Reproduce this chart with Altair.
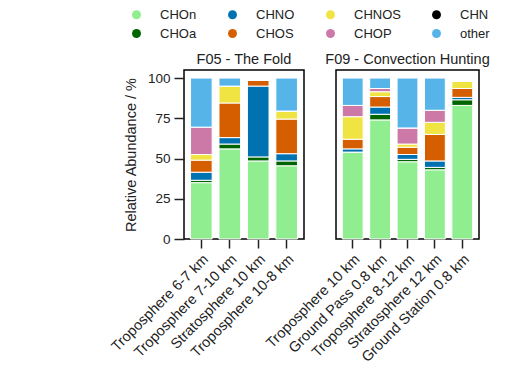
import altair as alt
import pandas as pd

species = ["CHOn", "CHOa", "CHNO", "CHOS", "CHNOS", "CHOP", "CHN", "other"]
colors = ["#90EE90", "#006400", "#0072B2", "#D55E00", "#F0E442", "#CC79A7", "#000000", "#56B4E9"]
legend_order = ["CHOn", "CHNO", "CHNOS", "CHN", "CHOa", "CHOS", "CHOP", "other"]

f05_samples = ["Troposphere 6-7 km", "Troposphere 7-10 km", "Stratosphere 10 km", "Troposphere 10-8 km"]
f09_samples = ["Troposphere 10 km", "Ground Pass 0.8 km", "Troposphere 8-12 km",
               "Stratosphere 12 km", "Ground Station 0.8 km"]

# F05 - The Fold (per species, one value per sample)
f05_CHOn = [35, 56, 48.5, 45.5]
f05_CHOa = [1.5, 3, 2.5, 3]
f05_CHNO = [5, 4, 44, 4.5]
f05_CHOS = [7.5, 21.5, 3.5, 21.5]
f05_CHNOS = [3.5, 10.5, 0, 5]
f05_CHOP = [17, 0, 0, 0]
f05_CHN = [0, 0, 0, 0]
f05_other = [30.5, 5, 0, 20.5]

# F09 - Convection Hunting
f09_CHOn = [54, 74, 48, 43, 83]
f09_CHOa = [0, 3.5, 1.5, 1.5, 3.5]
f09_CHNO = [2, 4.5, 3, 4, 1.5]
f09_CHOS = [6, 6.5, 4.5, 16.5, 5.5]
f09_CHNOS = [14, 3, 2, 7.5, 4.5]
f09_CHOP = [7, 2, 10, 7.5, 0]
f09_CHN = [0, 0, 0, 0, 0]
f09_other = [17, 6.5, 31, 20, 0]

f05 = dict(zip(species, [f05_CHOn, f05_CHOa, f05_CHNO, f05_CHOS, f05_CHNOS, f05_CHOP, f05_CHN, f05_other]))
f09 = dict(zip(species, [f09_CHOn, f09_CHOa, f09_CHNO, f09_CHOS, f09_CHNOS, f09_CHOP, f09_CHN, f09_other]))


def to_df(samples, vals):
    rows = []
    for k, sp in enumerate(species):
        for i, s in enumerate(samples):
            rows.append({"sample": s, "species": sp, "value": vals[sp][i], "rank": k})
    return pd.DataFrame(rows)


FONT = "Liberation Sans"
color = alt.Color(
    "species:N",
    scale=alt.Scale(domain=legend_order, range=[colors[species.index(s)] for s in legend_order]),
    legend=alt.Legend(
        title=None, orient="none", legendX=-54, legendY=-62, columns=4, direction="horizontal",
        symbolType="circle", symbolSize=80, symbolStrokeWidth=0, labelFontSize=13,
        labelFont=FONT, labelColor="#222", labelOffset=17, columnPadding=29, rowPadding=5,
    ),
)


def panel(samples, vals, title, width, show_y):
    yaxis = alt.Axis(values=[0, 25, 50, 75, 100], title="Relative Abundance / %", grid=False,
                     titleFontSize=14.5, labelFontSize=13.5, tickSize=10, tickWidth=1.5,
                     labelPadding=4, titlePadding=9) if show_y else None
    return alt.Chart(to_df(samples, vals)).mark_bar(stroke="white", strokeWidth=1).encode(
        x=alt.X("sample:N", sort=samples, title=None,
                scale=alt.Scale(paddingInner=0.24, paddingOuter=0.23),
                axis=alt.Axis(labelAngle=-45, labelFontSize=14.5, tickSize=9, tickWidth=1.5,
                              labelPadding=4)),
        y=alt.Y("value:Q", stack="zero", scale=alt.Scale(domain=[0, 105], nice=False), axis=yaxis),
        color=color,
        order=alt.Order("rank:Q"),
    ).properties(width=width, height=169,
                 title=alt.TitleParams(title, fontSize=14.5, fontWeight="normal", font=FONT,
                                       color="#222", offset=3))


chart = alt.hconcat(
    panel(f05_samples, f05, "F05 - The Fold", 120, True),
    panel(f09_samples, f09, "F09 - Convection Hunting", 143, False),
    spacing=32, bounds="flush",
).properties(
    padding={"left": 99, "top": 0, "right": 2, "bottom": 2}
).configure_view(
    stroke="black", strokeWidth=1.5
).configure_axis(
    domain=False, labelFont=FONT, titleFont=FONT, labelColor="#222", titleColor="#222",
    tickColor="#222", titleFontWeight="normal"
).configure_legend(padding=0)

chart.save("out.html", embed_options={"renderer": "svg", "actions": False})
